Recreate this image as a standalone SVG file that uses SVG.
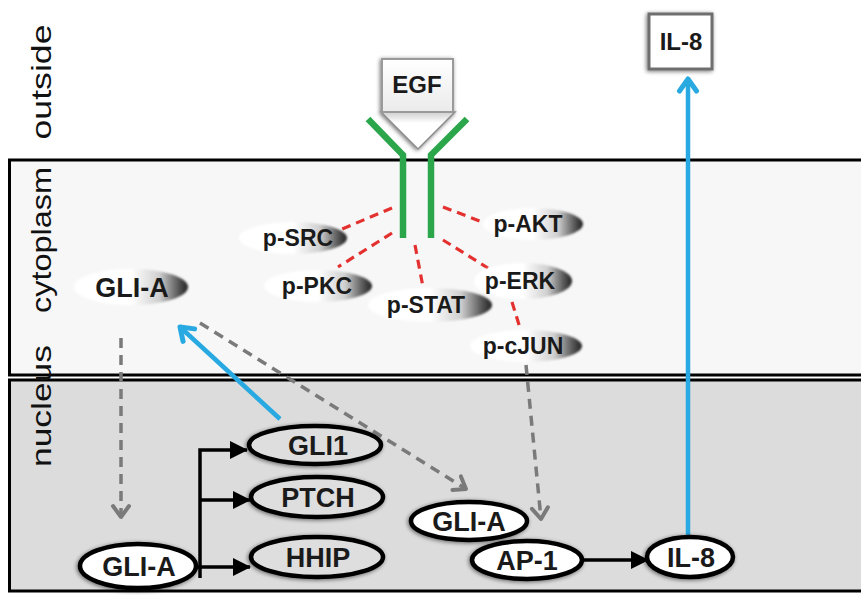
<svg xmlns="http://www.w3.org/2000/svg" width="861" height="595" viewBox="0 0 861 595">
  <style>
    .region { font-family: "Liberation Sans", Arial, sans-serif; font-size: 28px; fill: #111; }
    .lbl { font-family: "Liberation Sans", Arial, sans-serif; font-weight: bold; fill: #1a1a1a; text-anchor: middle; }
    .big { font-size: 27px; }
    .small { font-size: 23px; }
    .nuc { fill: #ffffff; stroke: #000; stroke-width: 4.5; }
    .nucg { fill: #dedede; stroke: #000; stroke-width: 4.5; }
    .phos { fill: url(#phosGrad); }
    .red { stroke: #e3312f; stroke-width: 3.2; stroke-dasharray: 9 6; fill: none; }
    .black { stroke: #000; stroke-width: 3.5; fill: none; }
    .blue { stroke: #29a9e1; stroke-width: 4.5; fill: none; }
    .grey { stroke: #7a7a7a; stroke-width: 3.5; stroke-dasharray: 10 7; fill: none; }
    .green { stroke: #2ba64b; stroke-width: 6.5; fill: none; stroke-linejoin: miter; }
  </style>
  <defs>
    <linearGradient id="phosGrad" x1="0" y1="0" x2="1" y2="0">
      <stop offset="0" stop-color="#ffffff"/>
      <stop offset="0.5" stop-color="#ffffff"/>
      <stop offset="0.75" stop-color="#cfcfcf"/>
      <stop offset="0.92" stop-color="#555"/>
      <stop offset="1" stop-color="#222"/>
    </linearGradient>
    <linearGradient id="boxGrad" x1="0" y1="0" x2="0" y2="1">
      <stop offset="0" stop-color="#ffffff"/>
      <stop offset="1" stop-color="#ebebeb"/>
    </linearGradient>
    <linearGradient id="triGrad" x1="0" y1="0" x2="0" y2="1">
      <stop offset="0" stop-color="#cfcfcf"/>
      <stop offset="0.3" stop-color="#ffffff"/>
      <stop offset="1" stop-color="#ffffff"/>
    </linearGradient>
    <filter id="shadow" x="-20%" y="-30%" width="140%" height="160%">
      <feGaussianBlur in="SourceAlpha" stdDeviation="2.2"/>
      <feOffset dx="-1.5" dy="1"/>
      <feComponentTransfer><feFuncA type="linear" slope="0.55"/></feComponentTransfer>
      <feMerge><feMergeNode/><feMergeNode in="SourceGraphic"/></feMerge>
    </filter>
    <filter id="soft" x="-10%" y="-20%" width="120%" height="140%">
      <feGaussianBlur stdDeviation="0.8"/>
    </filter>
    <marker id="headBlack" markerUnits="userSpaceOnUse" viewBox="0 0 18 18" refX="17" refY="9" markerWidth="18" markerHeight="18" orient="auto">
      <path d="M0,0 L18,9 L0,18 z" fill="#000"/>
    </marker>
    <marker id="headBlue" markerUnits="userSpaceOnUse" viewBox="-16 -12 20 24" refX="0" refY="0" markerWidth="20" markerHeight="24" orient="auto">
      <path d="M-12,-8.5 L0,0 L-12,8.5" fill="none" stroke="#29a9e1" stroke-width="5" stroke-linecap="round" stroke-linejoin="round"/>
    </marker>
    <marker id="headGrey" markerUnits="userSpaceOnUse" viewBox="-16 -12 20 24" refX="0" refY="0" markerWidth="20" markerHeight="24" orient="auto">
      <path d="M-11,-8 L0,0 L-11,8" fill="none" stroke="#7a7a7a" stroke-width="4" stroke-linecap="round" stroke-linejoin="round"/>
    </marker>
  </defs>

  <!-- background -->
  <rect x="0" y="0" width="861" height="595" fill="#ffffff"/>

  <!-- compartments -->
  <g id="compartments">
    <rect x="9.5" y="160" width="870" height="215" fill="#f7f7f7" stroke="#000" stroke-width="3"/>
    <rect x="9.5" y="380" width="870" height="211" fill="#dcdcdc" stroke="#000" stroke-width="3"/>
    <text class="region" transform="translate(51,82) rotate(-90)" text-anchor="middle" textLength="115" lengthAdjust="spacingAndGlyphs">outside</text>
    <text class="region" transform="translate(51,240) rotate(-90)" text-anchor="middle" textLength="146" lengthAdjust="spacingAndGlyphs">cytoplasm</text>
    <text class="region" transform="translate(51,406) rotate(-90)" text-anchor="middle" textLength="122" lengthAdjust="spacingAndGlyphs">nucleus</text>
  </g>

  <!-- connectors -->
  <g id="connectors">
    <!-- phosphorylation links from the receptor -->
    <line class="red" x1="392" y1="208" x2="335" y2="232"/>
    <line class="red" x1="392" y1="233" x2="338" y2="267"/>
    <line class="red" x1="415" y1="245" x2="423" y2="287"/>
    <line class="red" x1="443" y1="207" x2="485" y2="223"/>
    <line class="red" x1="443" y1="240" x2="488" y2="268"/>
    <line class="red" x1="512" y1="302" x2="520" y2="328"/>

    <!-- translocation / signalling (dashed grey) -->
    <line class="grey" x1="121" y1="338" x2="121" y2="517" marker-end="url(#headGrey)"/>
    <line class="grey" x1="200" y1="323" x2="466" y2="489" marker-end="url(#headGrey)"/>
    <line class="grey" x1="526" y1="365" x2="541" y2="519" marker-end="url(#headGrey)"/>

    <!-- GLI-A target genes -->
    <polyline class="black" points="200,578 200,450 247,450" marker-end="url(#headBlack)"/>
    <line class="black" x1="200" y1="500" x2="250" y2="500" marker-end="url(#headBlack)"/>
    <line class="black" x1="196" y1="567" x2="250" y2="567" marker-end="url(#headBlack)"/>
    <line class="black" x1="583" y1="560" x2="648" y2="560" marker-end="url(#headBlack)"/>

    <!-- feedback / secretion (blue) -->
    <line class="blue" x1="280" y1="419" x2="180" y2="327" marker-end="url(#headBlue)"/>
    <line class="blue" x1="688" y1="537" x2="688" y2="79" marker-end="url(#headBlue)"/>
  </g>

  <!-- EGF ligand -->
  <g id="egf">
    <g filter="url(#shadow)">
      <polygon points="381,112 455,112 418,149" fill="url(#triGrad)" stroke="#8a8a8a" stroke-width="1.5"/>
      <rect x="382" y="59" width="71" height="53" fill="url(#boxGrad)" stroke="#9a9a9a" stroke-width="2"/>
    </g>
    <text class="lbl" x="417" y="93" font-size="24">EGF</text>
  </g>

  <!-- EGF receptor -->
  <g id="egfr">
    <polyline class="green" points="368,119 403,155 403,238"/>
    <polyline class="green" points="467,119 431,155 431,238"/>
  </g>

  <!-- secreted IL-8 -->
  <g id="il8-out">
    <rect x="649" y="14" width="63" height="55" fill="#ffffff" stroke="#6e6e6e" stroke-width="3" filter="url(#shadow)"/>
    <text class="lbl" x="681" y="50" font-size="24">IL-8</text>
  </g>

  <!-- cytoplasmic phospho-proteins -->
  <g id="p-src">
    <ellipse class="phos" cx="293" cy="238" rx="54" ry="16" filter="url(#soft)"/>
    <text class="lbl small" x="298" y="246">p-SRC</text>
  </g>
  <g id="p-pkc">
    <ellipse class="phos" cx="318" cy="286" rx="54" ry="16" filter="url(#soft)"/>
    <text class="lbl small" x="317" y="294">p-PKC</text>
  </g>
  <g id="p-stat">
    <ellipse class="phos" cx="430" cy="305" rx="62" ry="17" filter="url(#soft)"/>
    <text class="lbl small" x="426" y="313">p-STAT</text>
  </g>
  <g id="p-akt">
    <ellipse class="phos" cx="533" cy="224" rx="50" ry="16" filter="url(#soft)"/>
    <text class="lbl small" x="528" y="232">p-AKT</text>
  </g>
  <g id="p-erk">
    <ellipse class="phos" cx="523" cy="281" rx="49" ry="18" filter="url(#soft)"/>
    <text class="lbl small" x="520" y="289">p-ERK</text>
  </g>
  <g id="p-cjun">
    <ellipse class="phos" cx="526" cy="346" rx="56" ry="16" filter="url(#soft)"/>
    <text class="lbl small" x="523" y="354">p-cJUN</text>
  </g>
  <g id="gli-a-cyto">
    <ellipse class="phos" cx="131" cy="287" rx="57" ry="18" filter="url(#soft)"/>
    <text class="lbl big" x="132" y="297">GLI-A</text>
  </g>

  <!-- nuclear factors -->
  <g id="gli-a-nuc">
    <ellipse class="nuc" cx="138" cy="566" rx="58" ry="22" filter="url(#shadow)"/>
    <text class="lbl big" x="139" y="576">GLI-A</text>
  </g>
  <g id="gli1">
    <ellipse class="nucg" cx="315" cy="445" rx="66" ry="19" filter="url(#shadow)"/>
    <text class="lbl big" x="318" y="455">GLI1</text>
  </g>
  <g id="ptch">
    <ellipse class="nucg" cx="317" cy="497" rx="66" ry="20" filter="url(#shadow)"/>
    <text class="lbl big" x="318" y="507">PTCH</text>
  </g>
  <g id="hhip">
    <ellipse class="nucg" cx="317" cy="557" rx="66" ry="20" filter="url(#shadow)"/>
    <text class="lbl big" x="318" y="567">HHIP</text>
  </g>
  <g id="gli-a-ap1">
    <ellipse class="nuc" cx="469" cy="521" rx="58" ry="19" filter="url(#shadow)"/>
    <text class="lbl big" x="469" y="531">GLI-A</text>
  </g>
  <g id="ap-1">
    <ellipse class="nuc" cx="527" cy="560" rx="55" ry="19" filter="url(#shadow)"/>
    <text class="lbl big" x="527" y="570">AP-1</text>
  </g>
  <g id="il-8">
    <ellipse class="nuc" cx="690" cy="557" rx="43" ry="20" filter="url(#shadow)"/>
    <text class="lbl big" x="691" y="567">IL-8</text>
  </g>
</svg>
